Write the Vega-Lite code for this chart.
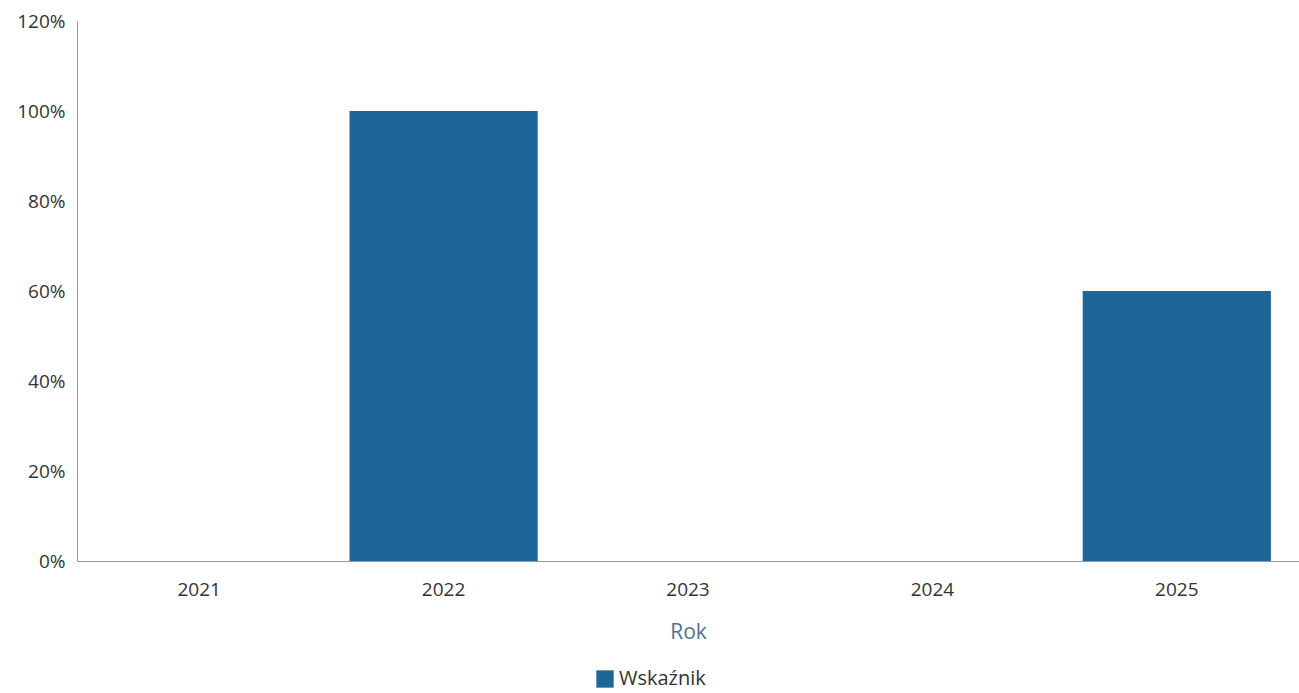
{
  "$schema": "https://vega.github.io/schema/vega-lite/v6.json",
  "autosize": "none",
  "width": 1222,
  "height": 540,
  "padding": {"left": 77, "top": 21, "right": 0, "bottom": 132},
  "background": "white",
  "config": {"view": {"stroke": null}, "font": "Open Sans"},
  "data": {"values": [
    {"Rok": "2021", "Wartosc": 0, "Seria": "Wskaźnik"},
    {"Rok": "2022", "Wartosc": 1.0, "Seria": "Wskaźnik"},
    {"Rok": "2023", "Wartosc": 0, "Seria": "Wskaźnik"},
    {"Rok": "2024", "Wartosc": 0, "Seria": "Wskaźnik"},
    {"Rok": "2025", "Wartosc": 0.6, "Seria": "Wskaźnik"}
  ]},
  "mark": {"type": "bar"},
  "encoding": {
    "x": {"field": "Rok", "type": "ordinal",
      "scale": {"paddingInner": 0.23, "paddingOuter": 0.115},
      "axis": {"title": "Rok", "labelAngle": 0, "ticks": false, "domain": true, "domainColor": "#8a9aa8",
        "labelFontSize": 19, "labelColor": "#333333", "labelPadding": 19,
        "titleFontSize": 21, "titleFontWeight": "normal", "titleColor": "#4f7194", "titlePadding": 22}},
    "y": {"field": "Wartosc", "type": "quantitative",
      "scale": {"domain": [0, 1.2]},
      "axis": {"title": null, "format": ".0%", "values": [0, 0.2, 0.4, 0.6, 0.8, 1.0, 1.2], "grid": false, "ticks": false,
        "domain": true, "domainColor": "#8a9aa8", "labelFontSize": 19, "labelColor": "#333333", "labelPadding": 12}},
    "color": {"field": "Seria", "type": "nominal", "scale": {"range": ["#1d6697"]},
      "legend": {"title": null, "orient": "none", "legendX": 518, "legendY": 648, "direction": "horizontal", "symbolType": "square", "symbolSize": 300,
        "labelFontSize": 20, "labelColor": "#333333", "symbolOpacity": 1}}
  }
}
